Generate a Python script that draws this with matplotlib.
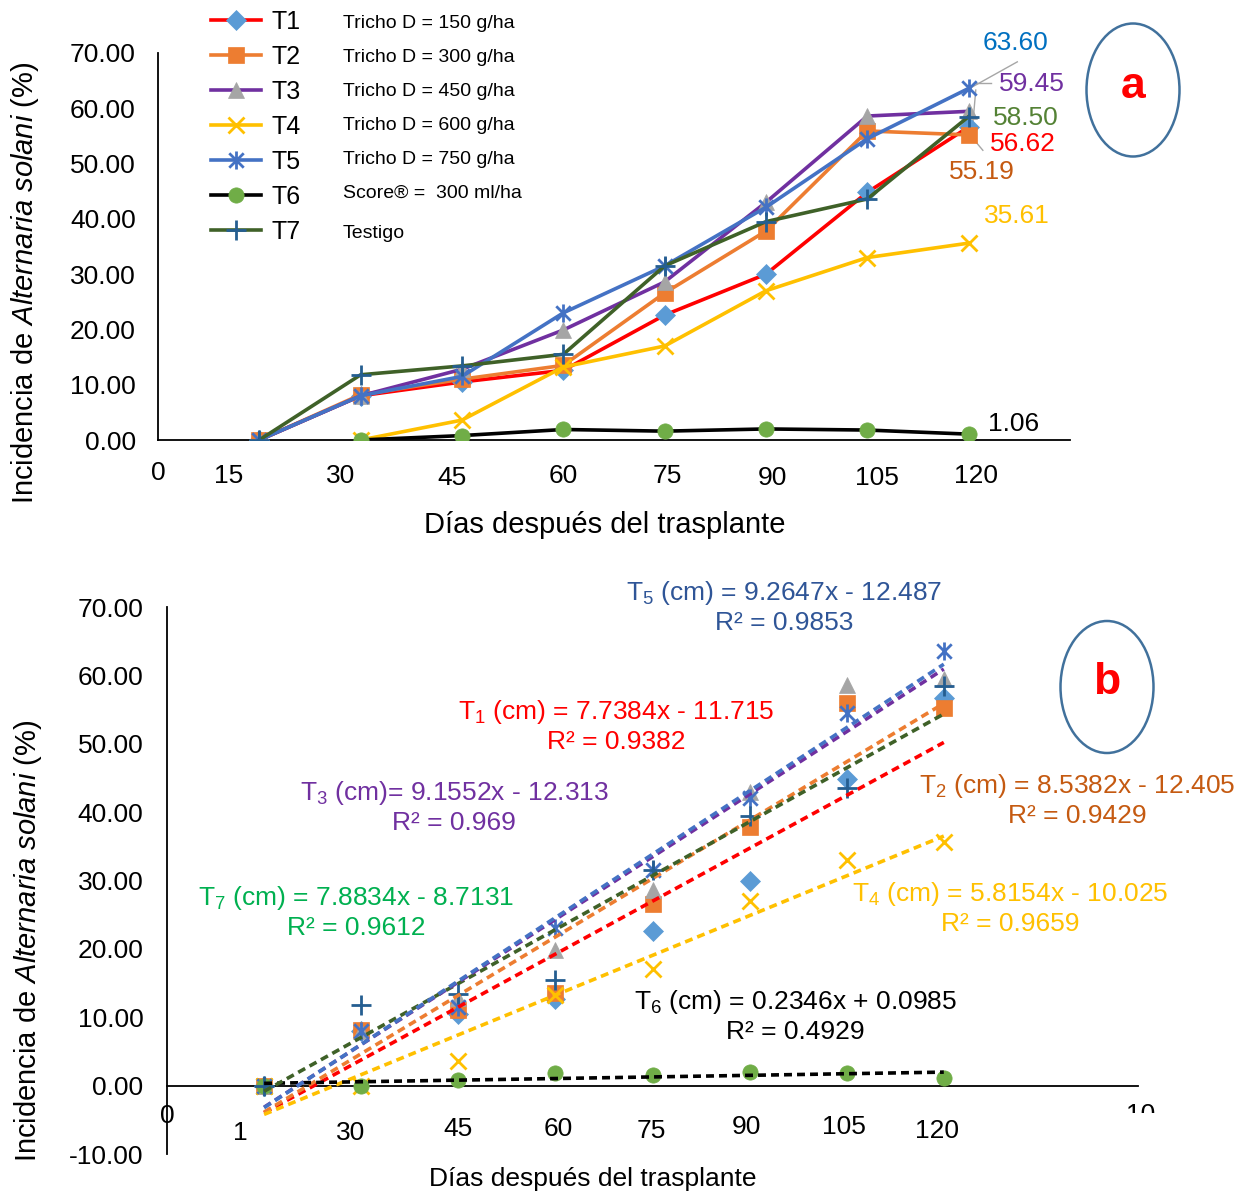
import matplotlib
matplotlib.use("Agg")
import matplotlib.pyplot as plt
import numpy as np
from matplotlib.lines import Line2D
from matplotlib.patches import Ellipse, Rectangle
from matplotlib.path import Path

plt.rcParams['font.family'] = ['Liberation Sans', 'DejaVu Sans']
plt.rcParams['mathtext.fontset'] = 'custom'
plt.rcParams['mathtext.rm'] = 'Liberation Sans'
plt.rcParams['mathtext.it'] = 'Liberation Sans:italic'
plt.rcParams['mathtext.bf'] = 'Liberation Sans:bold'

# ---------------- data ----------------
x_idx = [1, 2, 3, 4, 5, 6, 7, 8]
day_labels_a = ["0", "15", "30", "45", "60", "75", "90", "105", "120"]
day_labels_b = ["0", "1", "30", "45", "60", "75", "90", "105", "120", "10"]
series_names = ["T1", "T2", "T3", "T4", "T5", "T6", "T7"]
series_desc = ["Tricho D = 150 g/ha", "Tricho D = 300 g/ha", "Tricho D = 450 g/ha",
               "Tricho D = 600 g/ha", "Tricho D = 750 g/ha", "Score\u00ae =  300 ml/ha", "Testigo"]
T1 = [0.0, 8.0, 10.5, 12.6, 22.6, 30.0, 44.8, 56.62]
T2 = [0.0, 8.2, 11.0, 13.5, 26.6, 37.8, 55.9, 55.19]
T3 = [0.0, 8.0, 12.8, 19.9, 28.6, 43.0, 58.6, 59.45]
T4 = [0.0, 0.0, 3.6, 13.2, 17.0, 27.0, 33.0, 35.61]
T5 = [0.0, 8.0, 11.5, 23.0, 31.5, 42.1, 54.5, 63.60]
T6 = [0.0, 0.0, 0.8, 1.9, 1.6, 2.0, 1.8, 1.06]
T7 = [0.0, 11.8, 13.4, 15.5, 31.5, 39.5, 43.6, 58.50]
series = [T1, T2, T3, T4, T5, T6, T7]
first_point_a = [0, 0, 0, 1, 0, 1, 0]   # T4 and T6 start at 30 d in panel a

trend_slope = [7.7384, 8.5382, 9.1552, 5.8154, 9.2647, 0.2346, 7.8834]
trend_intercept = [-11.715, -12.405, -12.313, -10.025, -12.487, 0.0985, -8.7131]
trend_r2 = ["0.9382", "0.9429", "0.969", "0.9659", "0.9853", "0.4929", "0.9612"]
trend_text = ["7.7384x - 11.715", "8.5382x - 12.405", "9.1552x - 12.313",
              "5.8154x - 10.025", "9.2647x - 12.487", "0.2346x + 0.0985", "7.8834x - 8.7131"]

# ---------------- styles ----------------
line_colors = ['#FF0000', '#ED7D31', '#7030A0', '#FFC000', '#4472C4', '#000000', '#3F6128']
mk_colors = ['#5B9BD5', '#ED7D31', '#A5A5A5', '#FFC000', '#4472C4', '#70AD47', '#255E91']
ast = Path([(0, -1), (0, 1), (-0.8, -0.8), (0.8, 0.8), (-0.8, 0.8), (0.8, -0.8)],
           [Path.MOVETO, Path.LINETO, Path.MOVETO, Path.LINETO, Path.MOVETO, Path.LINETO])
markers = ['D', 's', '^', 'x', ast, 'o', '+']
msizes = [10, 11, 12, 12, 13, 11, 14]
filled = [True, True, True, False, False, True, False]
eq_colors = ['#FF0000', '#C55A11', '#7030A0', '#FFC000', '#2F5597', '#000000', '#00B050']
val_colors = ['#FF0000', '#C55A11', '#7030A0', '#FFC000', '#0070C0', '#000000', '#548235']

W, H = 1251, 1196
fig = plt.figure(figsize=(W / 100, H / 100), dpi=100)


def mk_kw(i):
    if filled[i]:
        return dict(marker=markers[i], markersize=msizes[i], markerfacecolor=mk_colors[i],
                    markeredgecolor=mk_colors[i], markeredgewidth=0.5)
    return dict(marker=markers[i], markersize=msizes[i], markerfacecolor='none',
                markeredgecolor=mk_colors[i], markeredgewidth=2.0)

ylab = r'Incidencia de $\mathit{Alternaria\ solani}$ (%)'

# ================= panel a =================
axa = fig.add_axes([158 / W, 1 - 440 / H, (1070 - 158) / W, (440 - 53) / H])
axa.set_xlim(0, 9)
axa.set_ylim(0, 70)
for i, s in enumerate(series):
    k = first_point_a[i]
    axa.plot(x_idx[k:], s[k:], color=line_colors[i], lw=2.6, zorder=3 + i * 0.1, **mk_kw(i))
axa.spines['top'].set_visible(False)
axa.spines['right'].set_visible(False)
for sp in ['left', 'bottom']:
    axa.spines[sp].set_linewidth(1.3)
axa.set_xticks([])
axa.set_yticks(np.arange(0, 71, 10))
axa.set_yticklabels([f"{v:.2f}" for v in np.arange(0, 71, 10)])
axa.tick_params(axis='y', length=0, labelsize=19, pad=16)
axa.set_ylabel(ylab, fontsize=21, va='center')
axa.yaxis.set_label_coords(-0.146, 0.406)

pos_a = [(0.0, -6.0), (0.7, -6.5), (1.8, -6.5), (2.9, -6.9), (4.0, -6.5),
         (5.03, -6.5), (6.06, -6.9), (7.09, -6.9), (8.07, -6.5)]
for lab, (px, py) in zip(day_labels_a, pos_a):
    axa.text(px, py, lab, ha='center', va='center', fontsize=19, clip_on=False)
axa.text(4.41, -15.3, "Días después del trasplante", ha='center', va='center', fontsize=21)

# end value labels
end_pos = [(8.54, 53.5), (8.13, 48.5), (8.62, 64.4), (8.48, 40.5), (8.46, 71.8), (8.44, 2.9), (8.56, 58.2)]
for i, s in enumerate(series):
    axa.text(end_pos[i][0], end_pos[i][1], f"{s[-1]:.2f}", color=val_colors[i], fontsize=19,
             ha='center', va='center', clip_on=False)
lead = '#A6A6A6'
axa.plot([8.01, 8.48], [63.6, 68.4], color=lead, lw=1, clip_on=False, zorder=2)
axa.plot([8.07, 8.22], [64.6, 64.6], color=lead, lw=1, clip_on=False, zorder=2)
axa.plot([8.07, 8.03, 8.14], [63.3, 54.8, 52.4], color=lead, lw=1, clip_on=False, zorder=2)

# legend
handles = [Line2D([], [], color=line_colors[i], lw=2.6, **mk_kw(i)) for i in range(7)]
fig.legend(handles, series_names, loc='upper left', bbox_to_anchor=(211 / W, 1 - 10 / H),
           frameon=False, fontsize=18, handlelength=2.0, handletextpad=0.4,
           labelspacing=0.44, borderpad=0, borderaxespad=0)
desc_y = [24, 58, 92, 126, 160, 193, 233]
for d, yy in zip(series_desc, desc_y):
    fig.text(343 / W, 1 - yy / H, d, fontsize=14, va='center', ha='left')

fig.patches.append(Ellipse((1133 / W, 1 - 90 / H), 93 / W, 133 / H, transform=fig.transFigure,
                           fill=False, edgecolor='#41719C', lw=1.8))
fig.text(1133 / W, 1 - 86 / H, "a", color='#FF0000', fontsize=32, fontweight='bold',
         ha='center', va='center')

# ================= panel b =================
axb = fig.add_axes([167 / W, 1 - 1154 / H, (1138 - 167) / W, (1154 - 607) / H])
axb.set_xlim(0, 10)
axb.set_ylim(-10, 70)
xs = np.array([x_idx[0], x_idx[-1]], dtype=float)
order = [0, 1, 3, 5, 6, 2, 4]
for i in order:
    axb.plot(xs, trend_slope[i] * xs + trend_intercept[i], color=line_colors[i], lw=2.6,
             ls=(0, (2.2, 1.4)), zorder=4 + order.index(i) * 0.1)
for i, s in enumerate(series):
    axb.plot(x_idx, s, ls='none', zorder=3, **mk_kw(i))
axb.spines['top'].set_visible(False)
axb.spines['right'].set_visible(False)
axb.spines['bottom'].set_position(('data', 0))
for sp in ['left', 'bottom']:
    axb.spines[sp].set_linewidth(1.3)
axb.set_xticks([])
axb.set_yticks(np.arange(-10, 71, 10))
axb.set_yticklabels([f"{v:.2f}" for v in np.arange(-10, 71, 10)])
axb.tick_params(axis='y', length=0, labelsize=19, pad=17)
axb.set_ylabel(ylab, fontsize=21, va='center')
axb.yaxis.set_label_coords(-0.143, 0.389)

pos_b = [(0.0, -4.5), (0.75, -6.9), (1.89, -6.9), (3.0, -6.4), (4.03, -6.4), (4.99, -6.7),
         (5.97, -6.1), (6.97, -6.1), (7.93, -6.6)]
for lab, (px, py) in zip(day_labels_b[:-1], pos_b):
    axb.text(px, py, lab, ha='center', va='center', fontsize=19, clip_on=False)
t10 = axb.text(10.03, -4.3, day_labels_b[-1], ha='center', va='center', fontsize=19, clip_on=True)
clip_rect = Rectangle((0, 1 - 1113 / H), 1, 1113 / H, transform=fig.transFigure)
t10.set_clip_path(clip_rect)
axb.text(4.38, -13.6, "Días después del trasplante", ha='center', va='center', fontsize=19,
         clip_on=False)

# equations (figure pixel centres)
eq_pos = [(616, 712), (1077, 786), (454, 793), (1010, 894), (784, 593), (795, 1002), (356, 898)]
for i in range(7):
    n = i + 1
    lhs = f"T$_{n}$ (cm) = " if i != 2 else f"T$_{n}$ (cm)= "
    cx, cy = eq_pos[i]
    fig.text(cx / W, 1 - cy / H, lhs + trend_text[i], color=eq_colors[i], fontsize=19,
             ha='center', va='center')
    fig.text(cx / W, 1 - (cy + 30) / H, "R\u00b2 = " + trend_r2[i], color=eq_colors[i],
             fontsize=19, ha='center', va='center')

fig.patches.append(Ellipse((1107 / W, 1 - 687 / H), 93 / W, 132 / H, transform=fig.transFigure,
                           fill=False, edgecolor='#41719C', lw=1.8))
fig.text(1107 / W, 1 - 683 / H, "b", color='#FF0000', fontsize=32, fontweight='bold',
         ha='center', va='center')

fig.savefig("out.png", dpi=100)
